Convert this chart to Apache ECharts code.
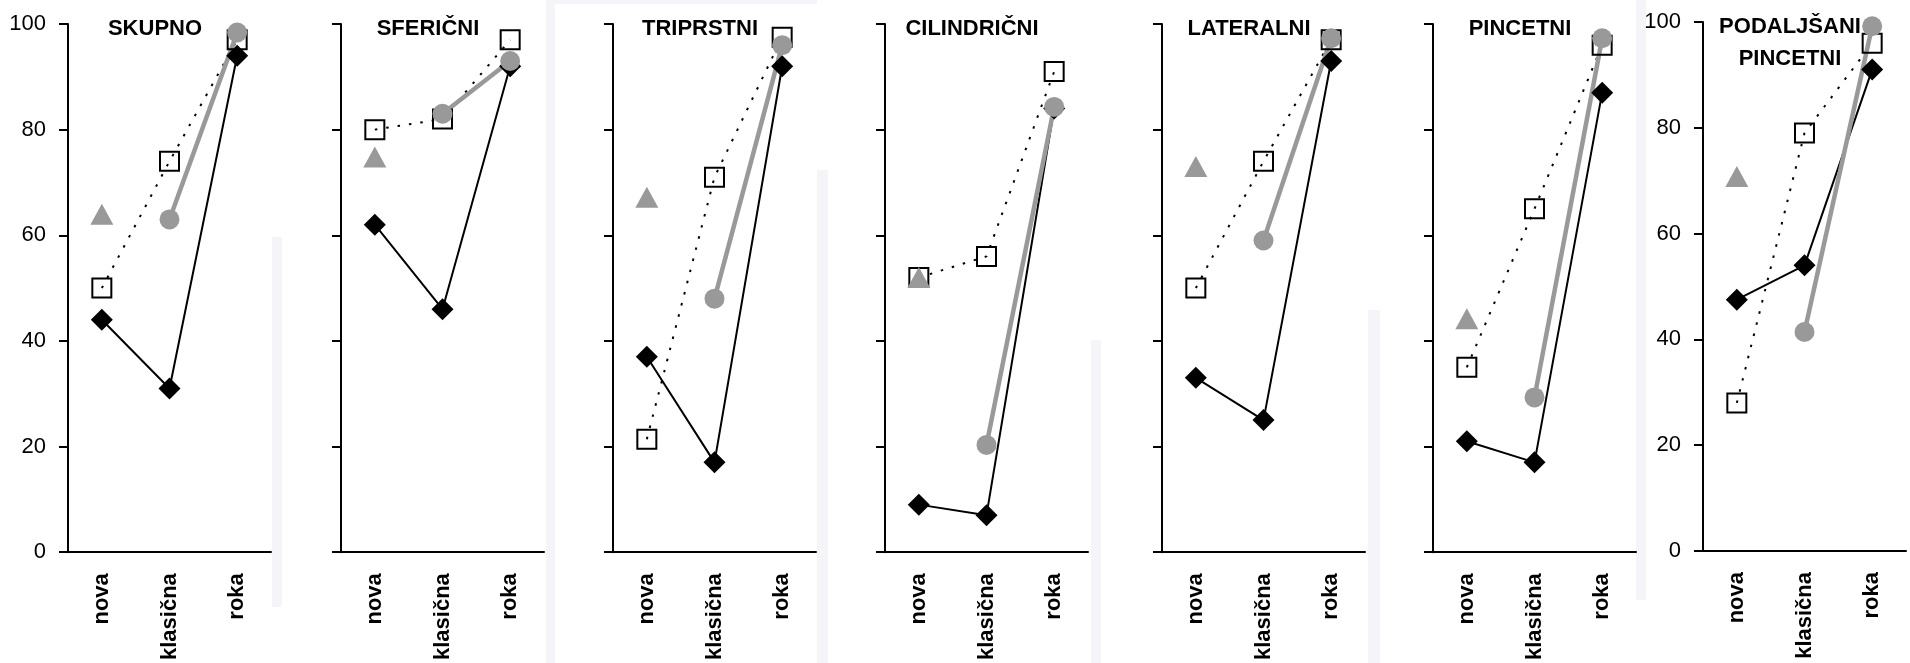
<!DOCTYPE html>
<html>
<head>
<meta charset="utf-8">
<title>Prijemi</title>
<script src="https://cdn.jsdelivr.net/npm/echarts@6/dist/echarts.min.js"></script>
<style>
  html, body { margin: 0; padding: 0; background: #fff; }
  #chart { width: 1910px; height: 663px; }
</style>
</head>
<body>
<div id="chart"></div>
<script>
// kategorije na x osi
var categories = ['nova', 'klasična', 'roka']

// naslovi panelov
var panelTitles = ['SKUPNO', 'SFERIČNI', 'TRIPRSTNI', 'CILINDRIČNI', 'LATERALNI', 'PINCETNI', 'PODALJŠANI\nPINCETNI']

// y os
var yTicks = [0, 20, 40, 60, 80, 100]

// črni romb, polna črta
var diamondVals = [
  [44, 31, 94],
  [62, 46, 92],
  [37, 17, 92],
  [9, 7, 84],
  [33, 25, 93],
  [21, 17, 87],
  [47.5, 54, 91]
]

// prazen kvadrat, pikčasta črta
var squareVals = [
  [50, 74, 97],
  [80, 82, 97],
  [21.4, 71, 97.5],
  [52, 56, 91],
  [50, 74, 97],
  [35, 65, 96],
  [28, 79, 96]
]

// siv krog, debela siva črta
var circleVals = [
  [null, 63, 98.4],
  [null, 83, 93],
  [null, 48, 96],
  [null, 20.3, 84.3],
  [null, 59, 97.3],
  [null, 29.3, 97.3],
  [null, 41.4, 99.2]
]

// siv trikotnik (samo nova)
var triangleVals = [
  [64, null, null],
  [74.8, null, null],
  [67.2, null, null],
  [52, null, null],
  [73, null, null],
  [44.2, null, null],
  [70.8, null, null]
]

var FONT = '"Liberation Sans", Arial, sans-serif'
var GRAY = '#999999'

// položaji panelov (levi rob y osi)
var panelLeft = [68, 341, 613, 885, 1162, 1433, 1703]
var panelTop = [24, 24, 24, 24, 24, 24, 22]
var plotW = 203
var plotH = 529

var grids = []
var xAxes = []
var yAxes = []
var titles = []
var series = []

for (var i = 0; i < 7; i++) {
  grids.push({ left: panelLeft[i], top: panelTop[i], width: plotW, height: plotH })

  xAxes.push({
    type: 'category',
    gridIndex: i,
    data: categories,
    axisLine: { lineStyle: { color: '#000', width: 2 } },
    axisTick: { length: 9, lineStyle: { color: '#000', width: 2 } },
    axisLabel: {
      rotate: 90,
      margin: 21,
      color: '#000',
      fontFamily: FONT,
      fontWeight: 'bold',
      fontSize: 22
    },
    splitLine: { show: false }
  })

  var showLabels = (i === 0 || i === 6)
  yAxes.push({
    type: 'value',
    gridIndex: i,
    min: yTicks[0],
    max: yTicks[yTicks.length - 1],
    interval: 20,
    axisLine: { show: true, lineStyle: { color: '#000', width: 2 } },
    axisTick: { show: true, length: 9, lineStyle: { color: '#000', width: 2 } },
    axisLabel: {
      show: showLabels,
      margin: 22,
      color: '#000',
      fontFamily: FONT,
      fontSize: 22
    },
    splitLine: { show: false }
  })

  var twoLines = panelTitles[i].indexOf('\n') >= 0
  titles.push({
    text: panelTitles[i],
    left: panelLeft[i] + 82,
    top: twoLines ? 6 : 11,
    textAlign: 'center',
    textStyle: {
      color: '#000',
      fontFamily: FONT,
      fontWeight: 'bold',
      fontSize: 22,
      lineHeight: twoLines ? 32 : 26
    }
  })

  // vrstni red: kvadrat, romb, krog, trikotnik
  series.push({
    type: 'line',
    xAxisIndex: i,
    yAxisIndex: i,
    data: squareVals[i],
    symbol: 'rect',
    symbolSize: 19,
    lineStyle: { color: '#000', width: 2, type: [2.5, 9] },
    itemStyle: { color: 'rgba(255,255,255,0)', borderColor: '#000', borderWidth: 2 }
  })
  series.push({
    type: 'line',
    xAxisIndex: i,
    yAxisIndex: i,
    data: diamondVals[i],
    symbol: 'diamond',
    symbolSize: 22,
    lineStyle: { color: '#000', width: 2 },
    itemStyle: { color: '#000' }
  })
  series.push({
    type: 'line',
    xAxisIndex: i,
    yAxisIndex: i,
    data: circleVals[i],
    symbol: 'circle',
    symbolSize: 20,
    lineStyle: { color: GRAY, width: 4.5 },
    itemStyle: { color: GRAY }
  })
  series.push({
    type: 'line',
    xAxisIndex: i,
    yAxisIndex: i,
    data: triangleVals[i],
    symbol: 'triangle',
    symbolSize: [23, 21],
    lineStyle: { width: 0 },
    itemStyle: { color: GRAY }
  })
}

// svetle lise v ozadju (robovi zlepljenih slik)
var BG = '#f4f4f9'
var bgRects = [
  [272, 237, 10, 370],
  [546, 0, 9, 663],
  [555, 0, 262, 4],
  [817, 170, 11, 493],
  [1091, 340, 10, 323],
  [1368, 310, 12, 353],
  [1636, 0, 10, 600]
]
var graphics = bgRects.map(function (r) {
  return {
    type: 'rect',
    silent: true,
    z: -10,
    shape: { x: r[0], y: r[1], width: r[2], height: r[3] },
    style: { fill: BG }
  }
})

var myChart = echarts.init(document.getElementById('chart'), null, { renderer: 'canvas' })
myChart.setOption({
  animation: false,
  backgroundColor: '#fff',
  title: titles,
  grid: grids,
  xAxis: xAxes,
  yAxis: yAxes,
  graphic: graphics,
  series: series
})
</script>
</body>
</html>
